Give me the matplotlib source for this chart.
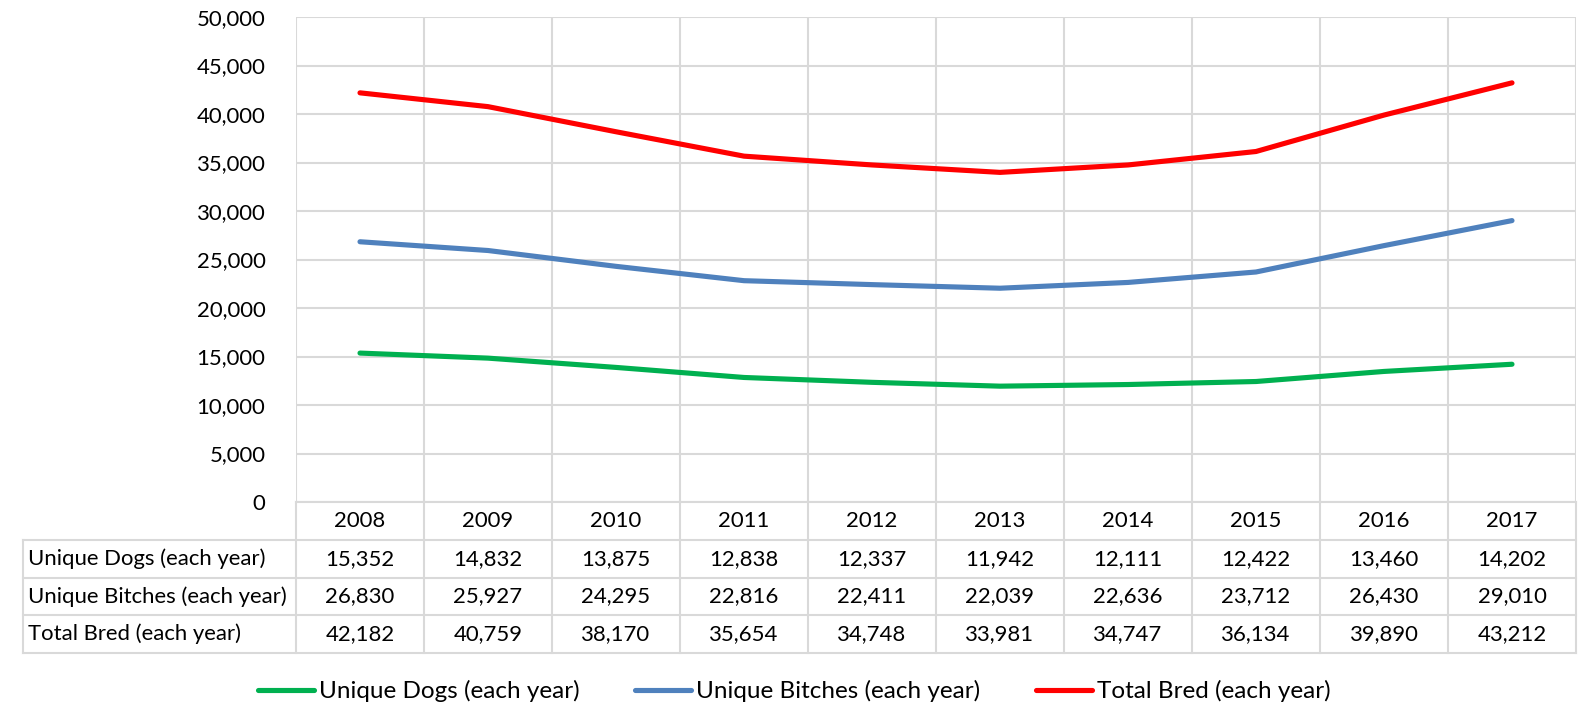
import matplotlib
matplotlib.use('Agg')
import matplotlib.pyplot as plt
from matplotlib.ticker import FuncFormatter

years = ["2008", "2009", "2010", "2011", "2012", "2013", "2014", "2015", "2016", "2017"]
unique_dogs = [15352, 14832, 13875, 12838, 12337, 11942, 12111, 12422, 13460, 14202]
unique_bitches = [26830, 25927, 24295, 22816, 22411, 22039, 22636, 23712, 26430, 29010]
total_bred = [42182, 40759, 38170, 35654, 34748, 33981, 34747, 36134, 39890, 43212]

series_names = ["Unique Dogs (each year)", "Unique Bitches (each year)", "Total Bred (each year)"]
series_values = [unique_dogs, unique_bitches, total_bred]
series_colors = ["#00b050", "#4f81bd", "#ff0000"]

plt.rcParams['font.family'] = ['Lato', 'DejaVu Sans']
W, H = 1588, 711
GRID = "#d9d9d9"
FS = 15.9

fig = plt.figure(figsize=(W / 100, H / 100), dpi=100)

def px(x0, y0, x1, y1):
    # pixel box (from top-left) -> figure fraction rect
    return [x0 / W, 1 - y1 / H, (x1 - x0) / W, (y1 - y0) / H]

# chart area
ax = fig.add_axes(px(296, 17, 1576, 502))
x = list(range(len(years)))
lines = []
for name, vals, col in zip(series_names, series_values, series_colors):
    ln, = ax.plot(x, vals, color=col, lw=3.7, solid_capstyle='round', label=name, zorder=3)
    lines.append(ln)
ax.set_xlim(-0.5, len(years) - 0.5)
ax.set_ylim(0, 50000)
ax.set_yticks(range(0, 50001, 5000))
ax.yaxis.set_major_formatter(FuncFormatter(lambda v, p: f"{int(v):,}"))
ax.tick_params(axis='y', length=0, pad=22, labelsize=FS)
ax.set_xticks([])
for v in range(0, 50001, 5000):
    ax.axhline(v, color=GRID, lw=1.5, zorder=1)
for i in range(len(years) + 1):
    ax.axvline(i - 0.5, color=GRID, lw=1.5, zorder=1)
for s in ax.spines.values():
    s.set_visible(False)

# data table below the plot
tb = fig.add_axes(px(23, 502, 1576, 653))
left = -0.5 - (296 - 23) / 128
tb.set_xlim(left, len(years) - 0.5)
tb.set_ylim(4, 0)
tb.axis('off')
for i in range(len(years) + 1):
    tb.plot([i - 0.5, i - 0.5], [0, 4], color=GRID, lw=1.5, clip_on=False)
tb.plot([left, left], [1, 4], color=GRID, lw=1.5, clip_on=False)
tb.plot([-0.5, len(years) - 0.5], [0, 0], color=GRID, lw=1.5, clip_on=False)
for r in range(1, 5):
    tb.plot([left, len(years) - 0.5], [r, r], color=GRID, lw=1.5, clip_on=False)
for i, yr in enumerate(years):
    tb.text(i, 0.5, yr, ha='center', va='center', fontsize=FS)
for r, (name, vals) in enumerate(zip(series_names, series_values)):
    tb.text(left + 0.04, r + 1.5, name, ha='left', va='center', fontsize=FS)
    for i, v in enumerate(vals):
        tb.text(i, r + 1.5, f"{v:,}", ha='center', va='center', fontsize=FS)

fig.legend(handles=lines, loc='center', bbox_to_anchor=(0.5, 1 - 691 / H), ncol=3,
           frameon=False, fontsize=17.5, handlelength=2.3, handletextpad=0.2,
           columnspacing=2.3)

fig.savefig("out.png", dpi=100)
